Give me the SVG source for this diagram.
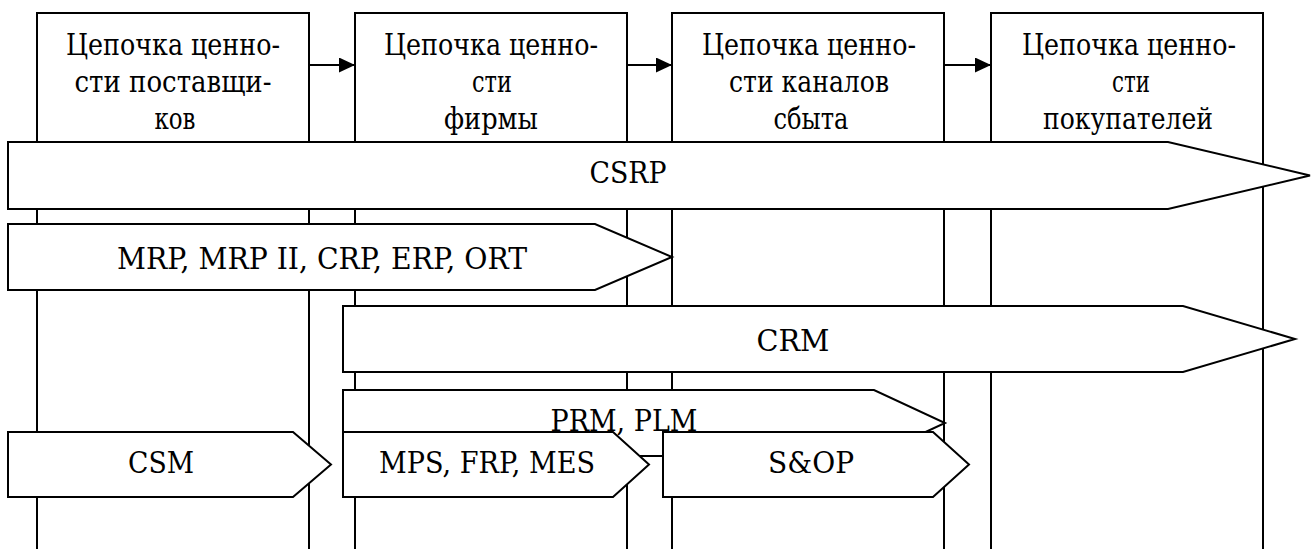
<svg xmlns="http://www.w3.org/2000/svg" width="1314" height="549" viewBox="0 0 1314 549">
  <defs>
    <style>
      .col { fill: none; stroke: #000; stroke-width: 2; }
      .band { fill: #fff; stroke: #000; stroke-width: 2; stroke-linejoin: miter; }
      .link { stroke: #000; stroke-width: 2; fill: none; }
      .head { fill: #000; }
      .lbl { font-family: 'DejaVu Serif', 'Liberation Serif', serif; font-size: 29px; fill: #000; text-anchor: middle; }
    </style>
    <marker id="arrow" viewBox="0 0 16 15" refX="16" refY="7.5" markerWidth="16" markerHeight="15" markerUnits="userSpaceOnUse" orient="auto">
      <path class="head" d="M0,0 L16,7.5 L0,15 Z"/>
    </marker>
  </defs>
  <rect width="1314" height="549" fill="#fff"/>

  <!-- value-chain columns: open boxes whose sides run down the full height -->
  <g id="col-suppliers">
    <path class="col" d="M37,549 V13 H309 V549"/>
    <text class="lbl" x="173" y="55" textLength="214" lengthAdjust="spacingAndGlyphs">Цепочка ценно-</text>
    <text class="lbl" x="173" y="92" textLength="197" lengthAdjust="spacingAndGlyphs">сти поставщи-</text>
    <text class="lbl" x="175" y="129" textLength="41" lengthAdjust="spacingAndGlyphs">ков</text>
  </g>
  <g id="col-firm">
    <path class="col" d="M355,549 V13 H627 V549"/>
    <text class="lbl" x="491" y="55" textLength="214" lengthAdjust="spacingAndGlyphs">Цепочка ценно-</text>
    <text class="lbl" x="492" y="92" textLength="40" lengthAdjust="spacingAndGlyphs">сти</text>
    <text class="lbl" x="491" y="129" textLength="94" lengthAdjust="spacingAndGlyphs">фирмы</text>
  </g>
  <g id="col-channels">
    <path class="col" d="M672,549 V13 H944 V549"/>
    <text class="lbl" x="809" y="55" textLength="214" lengthAdjust="spacingAndGlyphs">Цепочка ценно-</text>
    <text class="lbl" x="809" y="92" textLength="160" lengthAdjust="spacingAndGlyphs">сти каналов</text>
    <text class="lbl" x="811" y="129" textLength="75" lengthAdjust="spacingAndGlyphs">сбыта</text>
  </g>
  <g id="col-customers">
    <path class="col" d="M991,549 V13 H1263 V549"/>
    <text class="lbl" x="1129" y="55" textLength="214" lengthAdjust="spacingAndGlyphs">Цепочка ценно-</text>
    <text class="lbl" x="1131" y="92" textLength="38" lengthAdjust="spacingAndGlyphs">сти</text>
    <text class="lbl" x="1128" y="129" textLength="170" lengthAdjust="spacingAndGlyphs">покупателей</text>
  </g>

  <!-- flow between the chains -->
  <g id="connectors">
    <line class="link" x1="309" y1="65" x2="355" y2="65" marker-end="url(#arrow)"/>
    <line class="link" x1="627" y1="65" x2="672" y2="65" marker-end="url(#arrow)"/>
    <line class="link" x1="944" y1="65" x2="991" y2="65" marker-end="url(#arrow)"/>
  </g>

  <!-- system coverage bands -->
  <g id="csrp">
    <polygon class="band" points="8,142 1168,142 1310,175.5 1168,209 8,209"/>
    <text class="lbl" x="628" y="183" textLength="77" lengthAdjust="spacingAndGlyphs">CSRP</text>
  </g>
  <g id="mrp">
    <polygon class="band" points="8,224 595,224 672,257 595,290 8,290"/>
    <text class="lbl" x="322" y="269" textLength="410" lengthAdjust="spacingAndGlyphs">MRP, MRP II, CRP, ERP, ORT</text>
  </g>
  <g id="crm">
    <polygon class="band" points="343,306 1183,306 1295,339 1183,372 343,372"/>
    <text class="lbl" x="793" y="351" textLength="73" lengthAdjust="spacingAndGlyphs">CRM</text>
  </g>
  <g id="prm">
    <polygon class="band" points="343,390 874,390 945,423 874,456 343,456"/>
  </g>
  <g id="csm">
    <polygon class="band" points="8,432 293,432 331,464.5 293,497 8,497"/>
    <text class="lbl" x="161" y="473" textLength="66" lengthAdjust="spacingAndGlyphs">CSM</text>
  </g>
  <g id="mps">
    <polygon class="band" points="343,432 613,432 649,464.5 613,497 343,497"/>
    <text class="lbl" x="487" y="473" textLength="216" lengthAdjust="spacingAndGlyphs">MPS, FRP, MES</text>
  </g>
  <g id="sop">
    <polygon class="band" points="663,432 933,432 969,464.5 933,497 663,497"/>
    <text class="lbl" x="811" y="473" textLength="86" lengthAdjust="spacingAndGlyphs">S&amp;OP</text>
  </g>
  <g id="prm-label">
    <text class="lbl" x="624" y="431" textLength="147" lengthAdjust="spacingAndGlyphs">PRM, PLM</text>
  </g>
</svg>
